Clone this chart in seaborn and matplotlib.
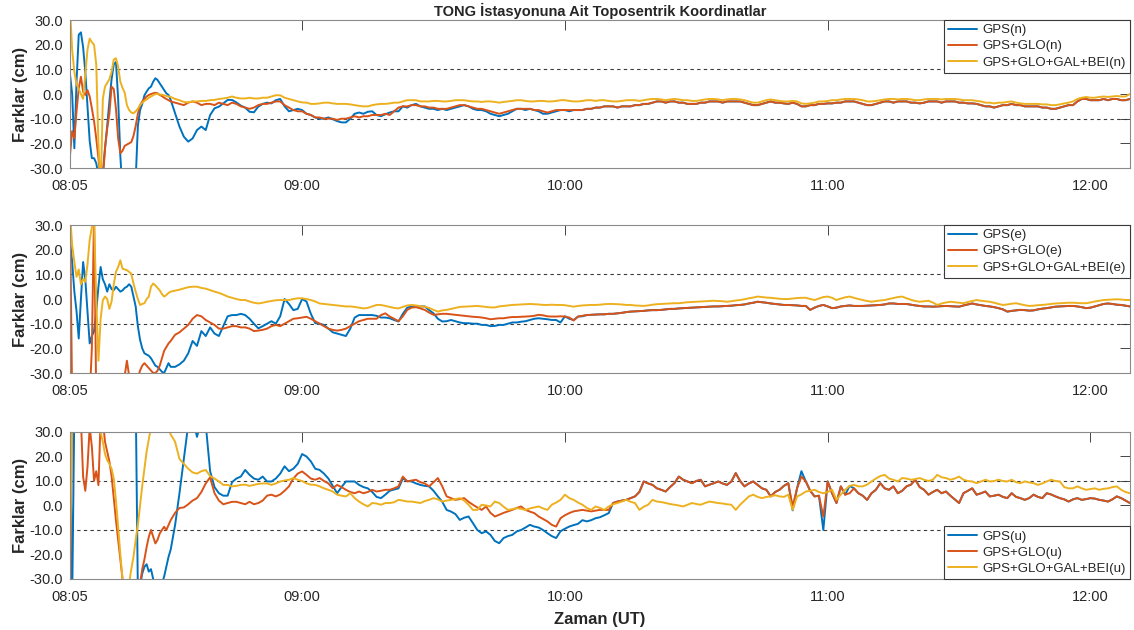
import numpy as np
import matplotlib
matplotlib.use("Agg")
import matplotlib.pyplot as plt
import seaborn as sns

# Time axis in minutes after 08:00: half-minute epochs during convergence, then one per minute
minutes = np.concatenate([np.arange(7.0, 30.0, 0.5), np.arange(30.0, 250.0, 1.0)])

tick_minutes = [7, 60, 120, 180, 240]
tick_labels = ["08:05", "09:00", "10:00", "11:00", "12:00"]
y_ticks = [-30, -20, -10, 0, 10, 20, 30]

solutions = ["GPS", "GPS+GLO", "GPS+GLO+GAL+BEI"]
components = ["n", "e", "u"]

# ---------------- North component (cm) ----------------
n_gps = [
    8, 0, -22, 5, 24, 25, 19, 9, -5, -19,
    -26, -26, -28, -33, -36, -32, -22, -13, -3, 6,
    12, 13, -2, -25, -40, -45, -48, -48, -46, -42,
    -35, -13, -6.5, -4, -0.5, 1, 2.3, 3, 5, 6.4,
    5.7, 4.3, 3, 1.6, 0.3, -0.4,
    -2.4, -7.8, -13.2, -17.3, -19.3, -18, -14.6, -13.2, -14.6, -8.5,
    -5.8, -5.1, -3.8, -2.4, -2.4, -3.4, -4.7, -5.5, -7.2, -7.4,
    -5.1, -4, -3.5, -3.8, -2.5, -2, -5, -7, -6.5, -6,
    -6.5, -8, -8.5, -9.5, -10, -10, -9.5, -10.2, -11, -11.5,
    -11.5, -10, -8, -7.5, -8, -7.2, -7, -8.5, -9, -8.2,
    -7.5, -7, -7, -5, -5.5, -4.5, -4, -5, -5.5, -6,
    -6, -6.5, -6, -6.5, -6, -5.5, -5, -4.5, -5, -6,
    -6.5, -6.5, -7, -8, -8.5, -9, -8.5, -8, -7, -6,
    -6, -6.5, -6, -6.5, -7, -8, -8, -7.5, -7, -6.5,
    -6.5, -7, -6.5, -6.5, -6.5, -6, -6, -5.5, -5.5, -5,
    -5, -5, -5.5, -5, -5, -5, -4.5, -4.5, -4, -4,
    -3.5, -3, -3, -3.5, -3, -3, -3.5, -3.5, -4, -4,
    -4, -3.5, -3.5, -3, -3, -3, -3.5, -3, -3, -3,
    -3, -3.5, -4, -4.5, -4.5, -4, -3.5, -3, -3.5, -3.5,
    -3.8, -4, -3.5, -4, -5, -5, -4.5, -4.5, -4, -4,
    -3.8, -3.8, -3.5, -3.5, -3, -3, -3, -3.5, -4, -4.5,
    -4.5, -4, -3.5, -3, -3, -3.5, -3, -3, -3, -3.5,
    -3.5, -3.8, -3.5, -3, -3, -3, -3.5, -3, -3, -3,
    -3.5, -3.5, -3.8, -3.8, -4, -4.5, -5, -5, -5.5, -5,
    -4.5, -4.5, -4, -4.5, -4.5, -5, -5, -5, -5, -5.5,
    -5.5, -6, -6, -5.5, -5, -4.5, -4.5, -3, -2, -2,
    -2.5, -2.5, -2.5, -2, -2.5, -2, -2, -2.5, -2.5, -2,
]
n_glo = [
    -25, -15, -18, -7, 2.3, 7, 1, -0.4, 1.6, -1,
    -5.8, -11, -18, -26, -35, -35, -22, -14, -8, 3,
    2, -6, -18, -24, -23, -21, -20.5, -20, -19.5, -17,
    -13, -8, -4.5, -3, -2, -1, -0.4, 0, 0.3, 0.5,
    0.3, -0.4, -0.8, -1.5, -2, -2.5,
    -3, -3.5, -4, -4.5, -3.5, -3, -3.5, -4.5, -4, -4,
    -4.5, -3.5, -4, -4.5, -3.5, -4, -5, -5.5, -6, -5.5,
    -4.5, -4, -4, -3.5, -3, -3, -4.5, -5.5, -6.5, -7,
    -7, -8, -8.5, -9.5, -9.5, -10, -10, -10, -10.5, -10,
    -10, -9.5, -9, -9.5, -9, -9, -8.5, -8.5, -8.5, -8,
    -8.5, -7, -5.5, -5, -5, -4.5, -4.5, -5, -5, -5.5,
    -5.5, -6, -6, -6, -5.5, -5, -4.5, -4.5, -5, -5.5,
    -6, -6, -6.5, -7, -7.5, -8, -7.5, -7, -6.5, -6,
    -6, -6, -6, -6.5, -6.5, -7, -7.5, -7, -6.5, -6.5,
    -6.5, -6.5, -6.5, -6.5, -6.5, -6, -6, -5.5, -5.5, -5,
    -5, -5, -5.5, -5, -5, -5, -4.5, -4.5, -4, -4,
    -3.5, -3, -3, -3.5, -3, -3, -3.5, -3.5, -4, -4,
    -4, -3.5, -3.5, -3, -3, -3, -3.5, -3, -3, -3,
    -3, -3.5, -4, -4.5, -4.5, -4, -3.5, -3, -3.5, -3.5,
    -3.8, -4, -3.5, -4, -5, -5, -4.5, -4.5, -4, -4,
    -3.8, -3.8, -3.5, -3.5, -3, -3, -3, -3.5, -4, -4.5,
    -4.5, -4, -3.5, -3, -3, -3.5, -3, -3, -3, -3.5,
    -3.5, -3.8, -3.5, -3, -3, -3, -3.5, -3, -3, -3,
    -3.5, -3.5, -3.8, -3.8, -4, -4.5, -5, -5, -5.5, -5,
    -4.5, -4.5, -4, -4.5, -4.5, -5, -5, -5, -5, -5.5,
    -5.5, -6, -6, -5.5, -5, -4.5, -4.5, -3, -2, -2,
    -2.5, -2.5, -2.5, -2, -2.5, -2, -2, -2.5, -2.5, -2,
]
n_all = [
    35, 18, 9, 4, 2, 0, -2, 8, 18, 22.5,
    21, 20, 12, -20, -40, -2, 3, 4.5, 6, 9,
    14, 14.5, 11, 5, 2.5, 0.5, -4.5, -6.5, -7.5, -7.8,
    -7, -6, -4.5, -3.5, -2.8, -2.2, -1.5, -1, -0.5, 0,
    0, -0.2, -0.3, -0.5, -0.8, -1,
    -1.2, -2, -2.5, -3.2, -3.4, -3, -3, -2.8, -2.8, -2.5,
    -2.4, -2, -1.8, -1.5, -1, -1.5, -1.8, -1.8, -1.5, -1.8,
    -1.8, -1.5, -1.5, -1, -0.5, -0.5, -1.5, -2, -2.5, -3,
    -3.4, -3.5, -4, -4, -3.8, -3.5, -3.5, -3.8, -4, -4,
    -4, -4.2, -4.5, -4.8, -5, -5, -4.5, -4.2, -4, -4,
    -3.8, -3.5, -3.5, -3, -2.5, -2.5, -2.5, -3, -3, -3,
    -2.8, -2.8, -3, -3, -2.8, -2.5, -2.5, -2.5, -2.8, -3,
    -3, -3.2, -3, -3, -3.2, -3.5, -3.2, -3, -2.8, -2.5,
    -2.5, -2.8, -3, -3, -2.8, -2.8, -3, -3, -2.8, -2.5,
    -2.5, -2.8, -3, -3, -2.8, -2.5, -2.5, -2.8, -2.5, -2.5,
    -2.8, -3, -3, -2.8, -2.5, -2.5, -2.5, -2.8, -2.5, -2.2,
    -2, -2, -2.2, -2.5, -2.2, -2, -2.2, -2.5, -2.5, -2.8,
    -2.8, -2.5, -2.2, -2, -2, -2.2, -2.5, -2.2, -2, -2,
    -2.2, -2.5, -3, -3.5, -3.5, -3, -2.5, -2.2, -2.5, -2.8,
    -3, -3, -2.8, -3, -3.8, -4, -3.8, -3.5, -3, -3,
    -2.8, -2.5, -2.5, -2.2, -2, -2, -2, -2.2, -2.5, -3,
    -3, -2.8, -2.5, -2.2, -2, -2, -2.2, -2, -2, -2.2,
    -2.5, -2.5, -2.2, -2, -2, -2, -2.2, -2, -2, -2,
    -2.2, -2.5, -2.5, -2.5, -2.8, -3, -3.5, -3.5, -3.8, -3.5,
    -3.5, -3.2, -3, -3.5, -3.8, -4, -4, -4, -4, -4.2,
    -4.2, -4.5, -4.5, -4.2, -3.8, -3.5, -3, -2, -1.5, -1.2,
    -1.5, -1.5, -1.2, -1, -1.2, -1, -0.8, -1, -1, 0,
]

# ---------------- East component (cm) ----------------
e_gps = [
    24, 15, 3, -5, -16, 0, 15, 8, -5, -18,
    -15, -13, -5, 5, 13, 8, 6, 3, 6, 4,
    3.6, 5, 4, 3, 3.5, 4.5, 5, 6, 5, 1,
    -3, -11, -16.5, -20, -22, -22.5, -23, -24, -25.5, -27,
    -27.5, -28.5, -29.5, -30, -28, -26,
    -27.5, -27.5, -26.5, -25, -22, -17, -19, -13, -15, -11.5,
    -14, -15, -11, -7, -6.5, -6.5, -6, -6.5, -8, -10,
    -11.9, -11, -10, -9, -10, -7, 0, -2, -4.5, -4,
    0, -1, -6, -9.8, -10, -10.5, -12, -13.5, -14, -14.5,
    -15, -12, -7.5, -6.5, -6.5, -6.5, -6.5, -6.8, -7.5, -7.5,
    -7.8, -8.5, -9.1, -6, -3.5, -3, -3, -3, -3, -4.5,
    -5.8, -8, -9.1, -9, -8.5, -9, -9.5, -9.8, -9.8, -10,
    -10, -10.5, -10.5, -11, -10.9, -10.5, -10.5, -10, -9.5, -9.5,
    -9.2, -9, -8.5, -8, -7.8, -8, -8.2, -8.5, -8.5, -9.5,
    -7, -8, -8.5, -7.1, -7, -6.5, -6.4, -6.3, -6.2, -6.2,
    -6, -6, -5.8, -5.6, -5.3, -5.1, -5, -4.9, -4.8, -4.6,
    -4.5, -4.5, -4.4, -4.2, -4, -4, -3.8, -3.7, -3.6, -3.5,
    -3.4, -3.3, -3.2, -3.1, -3, -3, -2.9, -2.8, -2.7, -2.5,
    -2.4, -2.2, -1.8, -1.5, -1.1, -1.3, -1.5, -1.8, -2, -2.2,
    -2.4, -2.4, -2.5, -2.6, -2.8, -2.8, -4.4, -3.5, -2.8, -2.4,
    -3, -3.7, -3.5, -3, -2.8, -2.6, -2.8, -2.8, -2.8, -2.7,
    -2.6, -2.5, -2.4, -2.2, -1.8, -1.8, -2, -2, -2, -2.3,
    -2.6, -2.8, -3, -3, -3.1, -3, -2.9, -2.8, -2.9, -3,
    -3.1, -2.6, -2.2, -1.8, -2.2, -2.5, -2.8, -3, -3.3, -3.7,
    -4.2, -5.1, -4.8, -4.6, -4.4, -4.5, -4.7, -4.6, -4.2, -3.9,
    -3.7, -3.4, -3.1, -3, -2.9, -2.8, -2.8, -3, -3.3, -3.7,
    -3.5, -3, -2.5, -2, -1.8, -2, -2.3, -2.4, -2.7, -3,
]
e_glo = [
    35, -40, -45, -45, -45, -45, -45, -45, -45, -40,
    -20, 35, -40, -45, -45, -45, -45, -45, -45, -45,
    -45, -42, -40, -36, -32, -31, -25, -31, -33, -32,
    -34, -32, -29, -27, -26, -27, -28, -29, -30, -30,
    -29, -27, -24, -21, -19.5, -18,
    -17, -14.5, -13.5, -12, -10.5, -8, -6.5, -7, -8.5, -9.5,
    -10.5, -12, -12, -11.5, -11, -11, -11.5, -11.5, -12, -13,
    -12.8, -12.5, -12, -11, -10.5, -11, -10, -9, -8, -7.8,
    -7.5, -7.2, -8, -9, -10, -11, -12, -12.5, -12.8, -12.5,
    -12, -11, -10, -9, -8.5, -8, -8, -8, -6.5, -5.8,
    -7.1, -8, -9, -7, -4.4, -3.5, -3.3, -3.8, -4.4, -5.5,
    -6.4, -6.2, -6, -6, -6.2, -6.4, -6.6, -6.8, -7, -7.2,
    -7.3, -7.5, -7.8, -8.2, -8, -7.8, -7.8, -7.5, -7.3, -7.3,
    -7.2, -7.1, -7, -6.8, -6.4, -6.6, -7, -7.1, -7.1, -7,
    -7.1, -7.5, -8.7, -7.1, -6.8, -6.5, -6.4, -6.3, -6.2, -6.2,
    -6, -6, -5.8, -5.6, -5.3, -5.1, -5, -4.9, -4.8, -4.6,
    -4.5, -4.5, -4.4, -4.2, -4, -4, -3.8, -3.7, -3.6, -3.5,
    -3.4, -3.3, -3.2, -3.1, -3, -3, -2.9, -2.8, -2.7, -2.5,
    -2.4, -2.2, -1.8, -1.5, -1.1, -1.3, -1.5, -1.8, -2, -2.2,
    -2.4, -2.4, -2.5, -2.6, -2.8, -2.8, -4.4, -3.5, -2.8, -2.4,
    -3, -3.7, -3.5, -3, -2.8, -2.6, -2.8, -2.8, -2.8, -2.7,
    -2.6, -2.5, -2.4, -2.2, -1.8, -1.8, -2, -2, -2, -2.3,
    -2.6, -2.8, -3, -3, -3.1, -3, -2.9, -2.8, -2.9, -3,
    -3.1, -2.6, -2.2, -1.8, -2.2, -2.5, -2.8, -3, -3.3, -3.7,
    -4.2, -5.1, -4.8, -4.6, -4.4, -4.5, -4.7, -4.6, -4.2, -3.9,
    -3.7, -3.4, -3.1, -3, -2.9, -2.8, -2.8, -3, -3.3, -3.7,
    -3.5, -3, -2.5, -2, -1.8, -2, -2.3, -2.4, -2.7, -3,
]
e_all = [
    35, 22, 15, 9, 12, 6, 8, 7, 14, 24,
    29, 32, 0, -25, -8, -0.5, 1, 0, -4, -1,
    6, 11, 13, 15.7, 12.3, 12, 11.7, 11, 10.3, 6.3,
    3, 0, -2.4, -2, -1.7, 0, 1, 5, 6.3, 5.5,
    4.5, 3.5, 2, 1, 1.6, 2.5,
    3, 3.4, 3.8, 4.3, 4.8, 5, 5, 4.5, 4.2, 3.6,
    3, 2.5, 1.8, 1, 0.5, 0, -0.4, -0.4, -1, -1.5,
    -1.8, -1.5, -1.1, -0.8, -0.5, -0.4, -0.4, -0.4, 0, 0.3,
    0.3, 0, -0.4, -1, -1.8, -2, -2.2, -2.4, -2.6, -2.8,
    -3, -3, -3.2, -3.5, -3.8, -3.6, -3, -2.4, -2.4, -2.8,
    -3.2, -3.6, -3.8, -3.2, -2.6, -2.4, -2.6, -2.9, -3.1, -3.6,
    -4.4, -5.1, -4.6, -4.4, -4, -3.6, -3.2, -3.1, -3, -2.9,
    -2.8, -3, -3.2, -3.4, -3.4, -3, -2.8, -2.6, -2.4, -2.3,
    -2.2, -2.1, -2, -2.1, -2.2, -2.4, -2.4, -2.3, -2.4, -2.4,
    -2.5, -2.8, -3.1, -2.8, -2.6, -2.5, -2.4, -2.4, -2.3, -2.1,
    -2, -2, -2.1, -2.2, -2.4, -2.4, -2.6, -2.7, -2.8, -2.6,
    -2.3, -2.1, -2, -1.9, -1.8, -1.7, -1.7, -1.5, -1.3, -1.2,
    -1.1, -1, -0.9, -0.8, -0.7, -0.8, -0.9, -1.1, -0.9, -0.6,
    -0.4, -0.1, 0.3, 0.6, 1, 0.8, 0.6, 0.5, 0.3, 0.1,
    0, 0, 0.2, 0.4, 0.5, 0.5, 0, -0.4, 0.2, 0.8,
    1, 0.5, -0.4, 0.2, 0.7, 1, 0.5, 0, -0.4, -0.8,
    -1.1, -0.8, -0.6, -0.4, 0, 0.4, 0.8, 1, 0.3, -0.3,
    -0.8, -1.1, -0.9, -0.7, -1.4, -2.4, -1.8, -1.4, -1.1, -1.3,
    -1.5, -1.7, -1.2, -0.8, -0.4, -0.7, -0.9, -1.1, -1.5, -2,
    -2.4, -2.2, -1.9, -1.7, -2.1, -2.5, -2.8, -2.7, -2.5, -2.4,
    -2.2, -2, -1.8, -1.7, -1.6, -1.5, -1.5, -1.6, -1.7, -1.7,
    -1.4, -1, -0.7, -0.4, -0.3, -0.2, -0.1, -0.2, -0.4, -0.4,
]

# ---------------- Up component (cm) ----------------
u_gps = [
    40, -40, 40, 45, 45, 45, 45, 45, 45, 45,
    45, 45, 45, 45, 45, 45, 45, 45, 45, 45,
    45, 45, 45, 45, 45, 45, 45, 45, 45, 45,
    45, -35, -33, -27.8, -25, -24, -27, -26, -30, -34,
    -36, -35, -32, -29, -25, -21,
    -18, -8, 5, 19, 33, 36, 28, 35, 33, 14,
    7.5, 5, 4, 4, 9.5, 11, 11.8, 14.5, 12.5, 11,
    10.5, 11.8, 9.8, 9.8, 11, 13, 16, 14, 15, 17,
    21, 20, 18, 15, 14.5, 13, 11, 8, 5, 7.5,
    9.8, 9.8, 9.8, 8.4, 7.5, 7, 5.5, 3.5, 3, 4.4,
    6, 6.5, 7, 11, 10, 9.8, 9, 8.4, 8, 7.8,
    6, 3.7, 1.5, -1.8, -2.5, -3.5, -5.9, -5, -4.5, -7.2,
    -10, -11.3, -10.6, -12, -14.5, -15.4, -13.3, -12.5, -12, -10.6,
    -10, -9, -7.9, -8.6, -9, -10, -11.3, -12.5, -13.3, -10.5,
    -9.5, -8.6, -8, -7.5, -6, -6.5, -6, -5.2, -4.8, -4,
    -3.1, 1, 1.6, 2, 2.3, 3, 3.7, 5.5, 9.8, 9,
    8.4, 7, 6.4, 5.7, 7.5, 9.1, 11.8, 10.5, 9.8, 9.1,
    10, 10.5, 7.8, 8.5, 9.1, 9.8, 9, 8.4, 9.8, 13.2,
    10, 7.8, 9, 9.8, 8.4, 7, 6.4, 3.7, 5.5, 6.4,
    8, 9.1, -2, 7, 14, 9.8, 6, 3.7, 4, -10,
    9.8, 5, 1, 7.8, 4.4, 8, 7, 5, 4, 2.3,
    5, 6.4, 9.1, 7, 6.4, 7.8, 5, 6, 7.8, 8.5,
    10.5, 7.5, 6.4, 4.4, 5.5, 6.4, 5, 5.7, 4, 2.5,
    1, 5, 6, 7, 4.4, 5, 5.7, 3.7, 4, 4.4,
    3.5, 3, 5, 3.5, 3, 2.3, 3, 4.4, 3.5, 3,
    5, 4.5, 3.7, 3, 2.5, 1.6, 2.5, 3, 2.3, 2.6,
    3, 2.8, 2.3, 2, 1.6, 2.5, 3.7, 3, 2, 1,
]
u_glo = [
    -40, 40, 40, 40, 40, 35, 11.7, 6, 15.8, 32,
    24, 10, 14, 8.3, 35, 35, 26, 22, 18, 12,
    3, -6, -14, -22, -30, -38, -42, -42, -42, -42,
    -42, -40, -32, -26, -22, -17, -12.8, -10, -12.8, -15.5,
    -14, -11.4, -10, -8.7, -10, -8,
    -6, -3, -1, -0.8, 0.5, 2, 3, 5.5, 9, 11.5,
    5, 2, 0.5, 1, 1.5, 1.5, 1, 0.5, 1.5, 0.5,
    1, 2, 4, 4.4, 3.7, 4.5, 6, 7.8, 11, 13,
    13.9, 12.5, 11, 10.5, 11.2, 10, 9, 7, 8.4, 7.5,
    6.4, 5.5, 5, 5.7, 5, 5.5, 6.4, 5.7, 6, 6.4,
    6.4, 7, 7.8, 11.8, 9.8, 10.2, 10.5, 9.5, 9, 7.8,
    9.5, 11.2, 7.8, 3.7, 3, 2.3, 2.6, 3, 1.5, 0.3,
    -0.8, -1.8, -0.4, -3, -4.5, -3.8, -3, -2.4, -1.8, -1,
    -0.4, -1.8, -2.5, -3.1, -4.5, -5.5, -6.5, -7.9, -8.6, -5.2,
    -4, -3.1, -2.4, -2.1, -1.8, -2.1, -2.4, -2.1, -1.8, -1.8,
    -1.8, 1, 1.6, 2, 2.3, 3, 3.7, 5.5, 9.8, 9,
    8.4, 7, 6.4, 5.7, 7.5, 9.1, 11.8, 10.5, 9.8, 9.1,
    10, 10.5, 7.8, 8.5, 9.1, 9.8, 9, 8.4, 9.8, 13.2,
    10, 7.8, 9, 9.8, 8.4, 7, 6.4, 3.7, 5.5, 6.4,
    8, 9.1, -0.4, 7, 11.8, 9.8, 6, 3.7, 4, -4.5,
    9.8, 5, 1, 7.8, 4.4, 5, 7, 5, 4, 2.3,
    5, 6.4, 9.1, 7, 6.4, 7.8, 5, 6, 7.8, 8.5,
    10.5, 7.5, 6.4, 4.4, 5.5, 6.4, 5, 5.7, 4, 2.5,
    1, 5, 6, 7, 4.4, 5, 5.7, 3.7, 4, 4.4,
    3.5, 3, 5, 3.5, 3, 2.3, 3, 4.4, 3.5, 3,
    5, 4.5, 3.7, 3, 2.5, 1.6, 2.5, 3, 2.3, 2.6,
    3, 2.8, 2.3, 2, 1.6, 2.5, 3.7, 3, 2, 1,
]
u_all = [
    -22, 40, 42, 42, 42, 42, 42, 42, 42, 42,
    42, 42, 40, 36, 30, 26, 21, 18.5, 17, 15,
    11, 2, -8.7, -20, -30, -38, -40, -32, -26, -21,
    -14, -8, 0, 8, 15, 22, 27, 32, 36, 38,
    40, 40, 38, 36, 34, 31,
    29, 26, 19, 17, 15, 13.5, 13, 14, 14.5, 12,
    11, 9.8, 8.4, 8.4, 7.8, 8, 8.4, 8.5, 8, 8.4,
    8.8, 9, 9, 8.4, 9, 9.8, 10.2, 10.5, 11.2, 10.5,
    10, 9, 8.5, 8.4, 7.8, 7, 6.4, 5.7, 4.4, 4,
    3.7, 5, 3, 1.6, 0.5, -0.4, 1, 0.8, 0.3, 1,
    1, 1.3, 2.3, 2, 1.6, 1.6, 1.3, 1, 1.8, 2.3,
    3, 2.5, 1.6, 2, 2.3, 2.6, 3, 2, 0.3, -1.8,
    -1.8, 0.3, 0, -0.4, 1.6, 1, -0.5, -1.8, -1.5, -1.1,
    -1.4, -1.8, -1.2, -0.8, -0.4, -1.2, -1.8, 0.3, 1.2, 2.3,
    4.4, 3, 2.3, 1.2, 0.3, -1, -1.8, -0.4, -1, -1.8,
    -0.4, 0.5, 1, 1.6, 2.3, 1.5, 1, -1.8, -0.5, 0.3,
    2.3, 1.6, 1.4, 1, 0.6, 0.3, 0, -0.4, 0.3, 1,
    0.6, 0.3, 1, 1.6, 1.3, 1, 0.8, 0.5, 0.3, -1.8,
    0.3, 2, 3.7, 4.4, 3.5, 3, 3.5, 3.7, 4.2, 3.7,
    3.5, 4.4, -1.8, 3.7, 4.5, 5.7, 6, 6.4, 5.5, 5,
    5.5, 6.4, 2.3, 4.5, 6.4, 8, 8.4, 7.8, 7.8, 8.5,
    9.8, 11, 12, 12.5, 11, 10.5, 9.8, 11.2, 11, 10.5,
    10.8, 11.2, 10.5, 10, 10.5, 12.5, 11.5, 11.2, 10.5, 11,
    11.8, 10.5, 10, 9.8, 9.1, 9.8, 10.5, 9.8, 10, 10.5,
    10, 9.8, 10.5, 9.5, 9.1, 9.8, 9.4, 9.1, 8.4, 9,
    9.8, 10.5, 10, 9.8, 7.5, 7, 7, 7.8, 7, 6.4,
    6.7, 7, 6.4, 6.8, 7, 7.5, 7.8, 6.4, 5.5, 5,
]

series = {
    "n": [n_gps, n_glo, n_all],
    "e": [e_gps, e_glo, e_all],
    "u": [u_gps, u_glo, u_all],
}

sns.set_theme(style="white")
plt.rcParams["font.family"] = ["Liberation Sans", "DejaVu Sans"]
plt.rcParams["axes.linewidth"] = 0.8

palette = ["#0072BD", "#D95319", "#EDB120"]
axis_grey = "#8a8a8a"
text_dark = "#262626"

fig = plt.figure(figsize=(11.34, 6.3), dpi=100)
rects = [
    [0.0617, 0.7333, 0.9347, 0.2349],
    [0.0617, 0.4079, 0.9347, 0.2349],
    [0.0617, 0.0810, 0.9347, 0.2333],
]
legend_locs = ["upper right", "upper right", "lower right"]

axes = []
for comp, rect, loc in zip(components, rects, legend_locs):
    ax = fig.add_axes(rect)
    axes.append(ax)
    for sol, vals, col in zip(solutions, series[comp], palette):
        sns.lineplot(x=minutes, y=np.asarray(vals, dtype=float), ax=ax, color=col,
                     linewidth=1.4, label=f"{sol}({comp})", estimator=None, sort=False)
    for ref in (-10, 10):
        ax.axhline(ref, color="#3a3a3a", lw=0.8, ls=(0, (3, 3)), zorder=1.5)

    ax.set_xlim(7, 249)
    ax.set_ylim(-30, 30)
    ax.set_xticks(tick_minutes)
    ax.set_xticklabels(tick_labels)
    ax.set_yticks(y_ticks)
    ax.set_yticklabels([f"{v:.1f}" for v in y_ticks])
    ax.tick_params(axis="both", direction="in", length=7, width=0.6,
                   top=True, right=True, color=text_dark,
                   labelsize=10.5, labelcolor=text_dark)
    ax.tick_params(axis="x", pad=8)
    ax.tick_params(axis="y", pad=5)
    for sp in ax.spines.values():
        sp.set_color(axis_grey)
        sp.set_linewidth(0.8)
    ax.set_xlabel("")
    ax.set_ylabel("Farklar (cm)", fontsize=12, fontweight="bold", color=text_dark, labelpad=1)

    leg = ax.legend(loc=loc, frameon=True, fancybox=False, framealpha=1,
                    edgecolor="#3a3a3a", fontsize=9.5, borderaxespad=0,
                    handlelength=2.2, handletextpad=0.45, borderpad=0.3,
                    labelspacing=0.3)
    leg.get_frame().set_linewidth(0.8)
    for txt in leg.get_texts():
        txt.set_color(text_dark)

axes[0].set_title("TONG İstasyonuna Ait Toposentrik Koordinatlar", fontsize=10.5,
                  fontweight="bold", color=text_dark, pad=3)
axes[2].set_xlabel("Zaman (UT)", fontsize=12, fontweight="bold", color=text_dark, labelpad=6)

fig.savefig("out.png", dpi=100, facecolor="white")
